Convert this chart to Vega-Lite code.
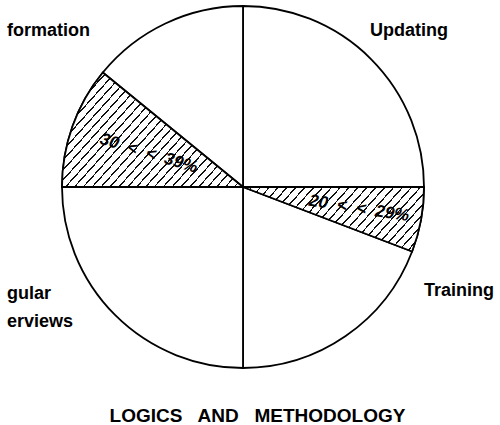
{
  "$schema": "https://vega.github.io/schema/vega-lite/v6.json",
  "autosize": "none",
  "width": 362,
  "height": 362,
  "padding": {"left": 62, "top": 6, "right": 76, "bottom": 57},
  "background": "white",
  "config": {"view": {"stroke": null}},
  "title": {
    "text": "LOGICS\u00a0\u00a0 AND\u00a0\u00a0 METHODOLOGY",
    "orient": "bottom",
    "anchor": "middle",
    "frame": "group",
    "dx": 14.5,
    "offset": 53,
    "baseline": "alphabetic",
    "font": "Liberation Sans",
    "fontSize": 19,
    "fontWeight": "bold",
    "color": "black"
  },
  "data": {
    "values": [
      {"order": 1, "category": "Updating", "label": "Updating", "segment": "Updating", "value": 25, "note": ""},
      {"order": 2, "category": "Training", "label": "Training", "segment": "Training 20-29%", "value": 5.8, "note": "20\u00a0 <\u00a0 <\u00a0 29%"},
      {"order": 3, "category": "Training", "label": "Training", "segment": "Training other", "value": 19.2, "note": ""},
      {"order": 4, "category": "Regular Interviews", "label": "gular\nerviews", "segment": "Regular Interviews", "value": 25, "note": ""},
      {"order": 5, "category": "Information", "label": "formation", "segment": "Information 30-39%", "value": 10.9, "note": "30\u00a0 <\u00a0 <\u00a0 39%"},
      {"order": 6, "category": "Information", "label": "formation", "segment": "Information other", "value": 14.1, "note": ""}
    ]
  },
  "layer": [
    {
      "mark": {"type": "arc", "fill": "white", "stroke": "black", "strokeWidth": 1.8, "strokeJoin": "round"},
      "encoding": {
        "theta": {"field": "value", "type": "quantitative", "stack": true, "scale": {"domain": [0, 100]}},
        "order": {"field": "order", "type": "quantitative"}
      }
    },
    {
      "transform": [
        {"stack": "value", "groupby": [], "sort": [{"field": "order"}], "as": ["v0", "v1"]},
        {"filter": "datum.order === 2"}
      ],
      "mark": {
        "type": "arc", "stroke": "black", "strokeWidth": 1.8, "strokeJoin": "round",
        "fill": {
          "gradient": "linear", "x1": 0, "y1": 0, "x2": 1.4235, "y2": 0.4568,
          "stops": [
            {"offset": 0, "color": "#fff"},
            {"offset": 0.02825, "color": "#fff"}, {"offset": 0.02825, "color": "#111"}, {"offset": 0.03425, "color": "#111"}, {"offset": 0.03425, "color": "#fff"},
            {"offset": 0.0595, "color": "#fff"}, {"offset": 0.0595, "color": "#111"}, {"offset": 0.0655, "color": "#111"}, {"offset": 0.0655, "color": "#fff"},
            {"offset": 0.09075, "color": "#fff"}, {"offset": 0.09075, "color": "#111"}, {"offset": 0.09675, "color": "#111"}, {"offset": 0.09675, "color": "#fff"},
            {"offset": 0.122, "color": "#fff"}, {"offset": 0.122, "color": "#111"}, {"offset": 0.128, "color": "#111"}, {"offset": 0.128, "color": "#fff"},
            {"offset": 0.15325, "color": "#fff"}, {"offset": 0.15325, "color": "#111"}, {"offset": 0.15925, "color": "#111"}, {"offset": 0.15925, "color": "#fff"},
            {"offset": 0.1845, "color": "#fff"}, {"offset": 0.1845, "color": "#111"}, {"offset": 0.1905, "color": "#111"}, {"offset": 0.1905, "color": "#fff"},
            {"offset": 0.21575, "color": "#fff"}, {"offset": 0.21575, "color": "#111"}, {"offset": 0.22175, "color": "#111"}, {"offset": 0.22175, "color": "#fff"},
            {"offset": 0.247, "color": "#fff"}, {"offset": 0.247, "color": "#111"}, {"offset": 0.253, "color": "#111"}, {"offset": 0.253, "color": "#fff"},
            {"offset": 0.27825, "color": "#fff"}, {"offset": 0.27825, "color": "#111"}, {"offset": 0.28425, "color": "#111"}, {"offset": 0.28425, "color": "#fff"},
            {"offset": 0.3095, "color": "#fff"}, {"offset": 0.3095, "color": "#111"}, {"offset": 0.3155, "color": "#111"}, {"offset": 0.3155, "color": "#fff"},
            {"offset": 0.34075, "color": "#fff"}, {"offset": 0.34075, "color": "#111"}, {"offset": 0.34675, "color": "#111"}, {"offset": 0.34675, "color": "#fff"},
            {"offset": 0.372, "color": "#fff"}, {"offset": 0.372, "color": "#111"}, {"offset": 0.378, "color": "#111"}, {"offset": 0.378, "color": "#fff"},
            {"offset": 0.40325, "color": "#fff"}, {"offset": 0.40325, "color": "#111"}, {"offset": 0.40925, "color": "#111"}, {"offset": 0.40925, "color": "#fff"},
            {"offset": 0.4345, "color": "#fff"}, {"offset": 0.4345, "color": "#111"}, {"offset": 0.4405, "color": "#111"}, {"offset": 0.4405, "color": "#fff"},
            {"offset": 0.46575, "color": "#fff"}, {"offset": 0.46575, "color": "#111"}, {"offset": 0.47175, "color": "#111"}, {"offset": 0.47175, "color": "#fff"},
            {"offset": 0.497, "color": "#fff"}, {"offset": 0.497, "color": "#111"}, {"offset": 0.503, "color": "#111"}, {"offset": 0.503, "color": "#fff"},
            {"offset": 0.52825, "color": "#fff"}, {"offset": 0.52825, "color": "#111"}, {"offset": 0.53425, "color": "#111"}, {"offset": 0.53425, "color": "#fff"},
            {"offset": 0.5595, "color": "#fff"}, {"offset": 0.5595, "color": "#111"}, {"offset": 0.5655, "color": "#111"}, {"offset": 0.5655, "color": "#fff"},
            {"offset": 0.59075, "color": "#fff"}, {"offset": 0.59075, "color": "#111"}, {"offset": 0.59675, "color": "#111"}, {"offset": 0.59675, "color": "#fff"},
            {"offset": 0.622, "color": "#fff"}, {"offset": 0.622, "color": "#111"}, {"offset": 0.628, "color": "#111"}, {"offset": 0.628, "color": "#fff"},
            {"offset": 0.65325, "color": "#fff"}, {"offset": 0.65325, "color": "#111"}, {"offset": 0.65925, "color": "#111"}, {"offset": 0.65925, "color": "#fff"},
            {"offset": 0.6845, "color": "#fff"}, {"offset": 0.6845, "color": "#111"}, {"offset": 0.6905, "color": "#111"}, {"offset": 0.6905, "color": "#fff"},
            {"offset": 0.71575, "color": "#fff"}, {"offset": 0.71575, "color": "#111"}, {"offset": 0.72175, "color": "#111"}, {"offset": 0.72175, "color": "#fff"},
            {"offset": 0.747, "color": "#fff"}, {"offset": 0.747, "color": "#111"}, {"offset": 0.753, "color": "#111"}, {"offset": 0.753, "color": "#fff"},
            {"offset": 0.77825, "color": "#fff"}, {"offset": 0.77825, "color": "#111"}, {"offset": 0.78425, "color": "#111"}, {"offset": 0.78425, "color": "#fff"},
            {"offset": 0.8095, "color": "#fff"}, {"offset": 0.8095, "color": "#111"}, {"offset": 0.8155, "color": "#111"}, {"offset": 0.8155, "color": "#fff"},
            {"offset": 0.84075, "color": "#fff"}, {"offset": 0.84075, "color": "#111"}, {"offset": 0.84675, "color": "#111"}, {"offset": 0.84675, "color": "#fff"},
            {"offset": 0.872, "color": "#fff"}, {"offset": 0.872, "color": "#111"}, {"offset": 0.878, "color": "#111"}, {"offset": 0.878, "color": "#fff"},
            {"offset": 0.90325, "color": "#fff"}, {"offset": 0.90325, "color": "#111"}, {"offset": 0.90925, "color": "#111"}, {"offset": 0.90925, "color": "#fff"},
            {"offset": 0.9345, "color": "#fff"}, {"offset": 0.9345, "color": "#111"}, {"offset": 0.9405, "color": "#111"}, {"offset": 0.9405, "color": "#fff"},
            {"offset": 0.96575, "color": "#fff"}, {"offset": 0.96575, "color": "#111"}, {"offset": 0.97175, "color": "#111"}, {"offset": 0.97175, "color": "#fff"},
            {"offset": 1, "color": "#fff"}
          ]
        }
      },
      "encoding": {
        "theta": {"field": "v0", "type": "quantitative", "scale": {"domain": [0, 100]}},
        "theta2": {"field": "v1"}
      }
    },
    {
      "transform": [
        {"stack": "value", "groupby": [], "sort": [{"field": "order"}], "as": ["v0", "v1"]},
        {"filter": "datum.order === 5"}
      ],
      "mark": {
        "type": "arc", "stroke": "black", "strokeWidth": 1.8, "strokeJoin": "round",
        "fill": {
          "gradient": "linear", "x1": 0, "y1": 0, "x2": 1.1855, "y2": 0.6752,
          "stops": [
            {"offset": 0, "color": "#fff"},
            {"offset": 0.02825, "color": "#fff"}, {"offset": 0.02825, "color": "#111"}, {"offset": 0.03425, "color": "#111"}, {"offset": 0.03425, "color": "#fff"},
            {"offset": 0.0595, "color": "#fff"}, {"offset": 0.0595, "color": "#111"}, {"offset": 0.0655, "color": "#111"}, {"offset": 0.0655, "color": "#fff"},
            {"offset": 0.09075, "color": "#fff"}, {"offset": 0.09075, "color": "#111"}, {"offset": 0.09675, "color": "#111"}, {"offset": 0.09675, "color": "#fff"},
            {"offset": 0.122, "color": "#fff"}, {"offset": 0.122, "color": "#111"}, {"offset": 0.128, "color": "#111"}, {"offset": 0.128, "color": "#fff"},
            {"offset": 0.15325, "color": "#fff"}, {"offset": 0.15325, "color": "#111"}, {"offset": 0.15925, "color": "#111"}, {"offset": 0.15925, "color": "#fff"},
            {"offset": 0.1845, "color": "#fff"}, {"offset": 0.1845, "color": "#111"}, {"offset": 0.1905, "color": "#111"}, {"offset": 0.1905, "color": "#fff"},
            {"offset": 0.21575, "color": "#fff"}, {"offset": 0.21575, "color": "#111"}, {"offset": 0.22175, "color": "#111"}, {"offset": 0.22175, "color": "#fff"},
            {"offset": 0.247, "color": "#fff"}, {"offset": 0.247, "color": "#111"}, {"offset": 0.253, "color": "#111"}, {"offset": 0.253, "color": "#fff"},
            {"offset": 0.27825, "color": "#fff"}, {"offset": 0.27825, "color": "#111"}, {"offset": 0.28425, "color": "#111"}, {"offset": 0.28425, "color": "#fff"},
            {"offset": 0.3095, "color": "#fff"}, {"offset": 0.3095, "color": "#111"}, {"offset": 0.3155, "color": "#111"}, {"offset": 0.3155, "color": "#fff"},
            {"offset": 0.34075, "color": "#fff"}, {"offset": 0.34075, "color": "#111"}, {"offset": 0.34675, "color": "#111"}, {"offset": 0.34675, "color": "#fff"},
            {"offset": 0.372, "color": "#fff"}, {"offset": 0.372, "color": "#111"}, {"offset": 0.378, "color": "#111"}, {"offset": 0.378, "color": "#fff"},
            {"offset": 0.40325, "color": "#fff"}, {"offset": 0.40325, "color": "#111"}, {"offset": 0.40925, "color": "#111"}, {"offset": 0.40925, "color": "#fff"},
            {"offset": 0.4345, "color": "#fff"}, {"offset": 0.4345, "color": "#111"}, {"offset": 0.4405, "color": "#111"}, {"offset": 0.4405, "color": "#fff"},
            {"offset": 0.46575, "color": "#fff"}, {"offset": 0.46575, "color": "#111"}, {"offset": 0.47175, "color": "#111"}, {"offset": 0.47175, "color": "#fff"},
            {"offset": 0.497, "color": "#fff"}, {"offset": 0.497, "color": "#111"}, {"offset": 0.503, "color": "#111"}, {"offset": 0.503, "color": "#fff"},
            {"offset": 0.52825, "color": "#fff"}, {"offset": 0.52825, "color": "#111"}, {"offset": 0.53425, "color": "#111"}, {"offset": 0.53425, "color": "#fff"},
            {"offset": 0.5595, "color": "#fff"}, {"offset": 0.5595, "color": "#111"}, {"offset": 0.5655, "color": "#111"}, {"offset": 0.5655, "color": "#fff"},
            {"offset": 0.59075, "color": "#fff"}, {"offset": 0.59075, "color": "#111"}, {"offset": 0.59675, "color": "#111"}, {"offset": 0.59675, "color": "#fff"},
            {"offset": 0.622, "color": "#fff"}, {"offset": 0.622, "color": "#111"}, {"offset": 0.628, "color": "#111"}, {"offset": 0.628, "color": "#fff"},
            {"offset": 0.65325, "color": "#fff"}, {"offset": 0.65325, "color": "#111"}, {"offset": 0.65925, "color": "#111"}, {"offset": 0.65925, "color": "#fff"},
            {"offset": 0.6845, "color": "#fff"}, {"offset": 0.6845, "color": "#111"}, {"offset": 0.6905, "color": "#111"}, {"offset": 0.6905, "color": "#fff"},
            {"offset": 0.71575, "color": "#fff"}, {"offset": 0.71575, "color": "#111"}, {"offset": 0.72175, "color": "#111"}, {"offset": 0.72175, "color": "#fff"},
            {"offset": 0.747, "color": "#fff"}, {"offset": 0.747, "color": "#111"}, {"offset": 0.753, "color": "#111"}, {"offset": 0.753, "color": "#fff"},
            {"offset": 0.77825, "color": "#fff"}, {"offset": 0.77825, "color": "#111"}, {"offset": 0.78425, "color": "#111"}, {"offset": 0.78425, "color": "#fff"},
            {"offset": 0.8095, "color": "#fff"}, {"offset": 0.8095, "color": "#111"}, {"offset": 0.8155, "color": "#111"}, {"offset": 0.8155, "color": "#fff"},
            {"offset": 0.84075, "color": "#fff"}, {"offset": 0.84075, "color": "#111"}, {"offset": 0.84675, "color": "#111"}, {"offset": 0.84675, "color": "#fff"},
            {"offset": 0.872, "color": "#fff"}, {"offset": 0.872, "color": "#111"}, {"offset": 0.878, "color": "#111"}, {"offset": 0.878, "color": "#fff"},
            {"offset": 0.90325, "color": "#fff"}, {"offset": 0.90325, "color": "#111"}, {"offset": 0.90925, "color": "#111"}, {"offset": 0.90925, "color": "#fff"},
            {"offset": 0.9345, "color": "#fff"}, {"offset": 0.9345, "color": "#111"}, {"offset": 0.9405, "color": "#111"}, {"offset": 0.9405, "color": "#fff"},
            {"offset": 0.96575, "color": "#fff"}, {"offset": 0.96575, "color": "#111"}, {"offset": 0.97175, "color": "#111"}, {"offset": 0.97175, "color": "#fff"},
            {"offset": 1, "color": "#fff"}
          ]
        }
      },
      "encoding": {
        "theta": {"field": "v0", "type": "quantitative", "scale": {"domain": [0, 100]}},
        "theta2": {"field": "v1"}
      }
    },
    {
      "transform": [
        {"aggregate": [{"op": "sum", "field": "value", "as": "total"}, {"op": "min", "field": "order", "as": "corder"}], "groupby": ["category", "label"]}
      ],
      "mark": {
        "type": "text",
        "radius": 215,
        "font": "Liberation Sans",
        "fontSize": 18,
        "fontWeight": "bold",
        "color": "black",
        "lineBreak": "\n",
        "lineHeight": 28,
        "baseline": "alphabetic",
        "align": {"expr": "datum.category === 'Information' ? 'right' : 'left'"},
        "dx": {"expr": "datum.category === 'Information' ? -1 : datum.category === 'Updating' ? -25 : datum.category === 'Training' ? 29 : -84"},
        "dy": {"expr": "datum.category === 'Information' ? 1 : datum.category === 'Updating' ? 1 : datum.category === 'Training' ? -43 : -40"}
      },
      "encoding": {
        "theta": {"field": "total", "type": "quantitative", "stack": true, "scale": {"domain": [0, 100]}},
        "order": {"field": "corder", "type": "quantitative"},
        "text": {"field": "label", "type": "nominal"}
      }
    },
    {
      "mark": {
        "type": "text",
        "font": "Liberation Sans",
        "fontSize": 17,
        "fontWeight": "bold",
        "fontStyle": "italic",
        "color": "black",
        "align": "center",
        "baseline": "middle",
        "radius": {"expr": "datum.order === 2 ? 118 : 100"},
        "angle": {"expr": "datum.order === 2 ? 9 : 17"}
      },
      "encoding": {
        "theta": {"field": "value", "type": "quantitative", "stack": true, "scale": {"domain": [0, 100]}},
        "order": {"field": "order", "type": "quantitative"},
        "text": {"field": "note", "type": "nominal"}
      }
    }
  ]
}
